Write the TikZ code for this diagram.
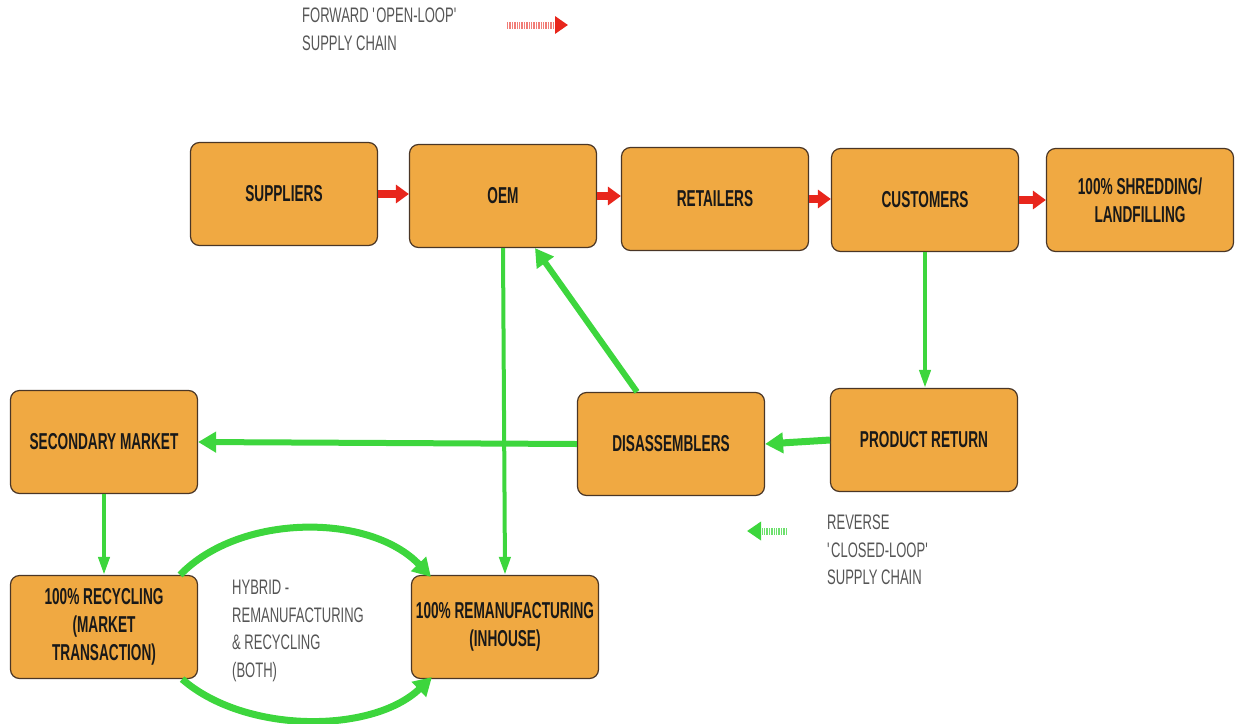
\documentclass[tikz,border=0pt]{standalone}
\usepackage{fontspec}
\setmainfont{Liberation Sans}[FakeStretch=0.62]
\newfontfamily\stagefont{Liberation Sans}[FakeStretch=0.593]
\usetikzlibrary{arrows.meta}

\definecolor{boxfill}{HTML}{F0A942}
\definecolor{boxline}{HTML}{4A3626}
\definecolor{fwdred}{HTML}{E8261C}
\definecolor{revgreen}{HTML}{3DD63D}
\definecolor{notegray}{HTML}{555555}

\tikzset{
  stage/.style={draw=boxline, line width=1.2pt, fill=boxfill, rounded corners=9pt,
    minimum width=187pt, minimum height=103pt, inner sep=0pt, align=center,
    text=black!90, font=\stagefont\fontsize{23}{28}\selectfont\bfseries},
  note/.style={anchor=north west, align=left, inner sep=0pt, text=notegray,
    font=\fontsize{21}{27.5}\selectfont},
  fwd/.style={draw=fwdred, line width=8pt, -{Triangle[length=13pt,width=18pt]}},
  revthick/.style={draw=revgreen, line width=7pt, -{Triangle[length=18pt,width=20pt]}},
  revthin/.style={draw=revgreen, line width=4pt, -{Triangle[length=18pt,width=11pt]}},
  legendfwd/.style={draw=fwdred!60, line width=7pt, dash pattern=on 1.4pt off 1pt,
    -{Triangle[length=13pt,width=17pt,color=fwdred]}},
  legendrev/.style={draw=revgreen!75, line width=7pt, dash pattern=on 1.4pt off 1pt,
    -{Triangle[length=14pt,width=18pt,color=revgreen]}},
}

\begin{document}
\begin{tikzpicture}[x=1pt,y=-1pt]
\useasboundingbox (0,0) rectangle (1236,723);

% forward chain
\node[stage] (sup) at (284,194) {SUPPLIERS};
\node[stage] (oem) at (503,196) {OEM};
\node[stage] (ret) at (715,199) {RETAILERS};
\node[stage] (cus) at (925,200) {CUSTOMERS};
\node[stage] (shr) at (1140,200) {100\% SHREDDING/\\LANDFILLING};

% reverse chain
\node[stage] (sec) at (104,442) {SECONDARY MARKET};
\node[stage] (dis) at (671,444) {DISASSEMBLERS};
\node[stage] (pr)  at (924,440) {PRODUCT RETURN};
\node[stage] (rec) at (104,627) {100\% RECYCLING\\(MARKET\\TRANSACTION)};
\node[stage] (rem) at (505,627) {100\% REMANUFACTURING\\(INHOUSE)};

% forward arrows
\draw[fwd] (sup.east) -- (sup.east -| oem.west);
\draw[fwd] (oem.east) -- (oem.east -| ret.west);
\draw[fwd] (ret.east) -- (ret.east -| cus.west);
\draw[fwd] (cus.east) -- (cus.east -| shr.west);

% reverse arrows
\draw[revthin] (cus.south) -- (cus.south |- pr.north);
\draw[revthick] (pr.west) -- (dis.east);
\draw[revthick, line width=6pt] (dis.west) -- (sec.east);
\draw[revthick, line width=6pt] ([xshift=-34pt]dis.north) -- ([xshift=32pt]oem.south);
\draw[revthin] (oem.south) -- (rem.north);
\draw[revthin] (sec.south) -- (rec.north);
\draw[revthick] ([xshift=-18pt]rec.north east) .. controls (240,513) and (370,513) .. ([xshift=20pt,yshift=-2pt]rem.north west);
\draw[revthick] ([xshift=-16pt]rec.south east) .. controls (245,734) and (372,734) .. ([xshift=21pt,yshift=2pt]rem.south west);

% hybrid label
\node[note] (hyb) at (232,580) {HYBRID -\\REMANUFACTURING\\\& RECYCLING\\(BOTH)};

% legend
\node[note] (lfwd) at (302,8) {FORWARD \textquotesingle OPEN-LOOP\textquotesingle\\SUPPLY CHAIN};
\coordinate (lf1) at (507,25);
\coordinate (lf2) at (568,25);
\draw[legendfwd] (lf1) -- (lf2);

\node[note] (lrev) at (827,515) {REVERSE\\\textquotesingle CLOSED-LOOP\textquotesingle\\SUPPLY CHAIN};
\coordinate (lr1) at (787,531);
\coordinate (lr2) at (747,531);
\draw[legendrev] (lr1) -- (lr2);
\end{tikzpicture}
\end{document}
